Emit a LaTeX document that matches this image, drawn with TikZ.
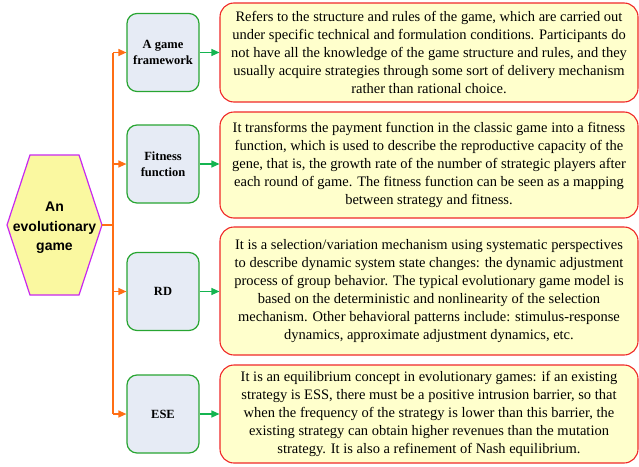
\documentclass[tikz,border=0pt]{standalone}
\usepackage{fontspec}
\setmainfont{Liberation Serif}
\newfontfamily\labelsans{Liberation Sans}
\usetikzlibrary{arrows.meta}

\definecolor{hexfill}{RGB}{250,248,160}
\definecolor{hexline}{RGB}{200,40,240}
\definecolor{termfill}{RGB}{230,235,245}
\definecolor{termline}{RGB}{40,165,50}
\definecolor{notefill}{RGB}{255,255,204}
\definecolor{noteline}{RGB}{240,40,40}
\definecolor{trunkline}{RGB}{255,110,20}
\definecolor{linkline}{RGB}{20,180,80}

\tikzset{
  termbox/.style={draw=termline, fill=termfill, line width=1.2pt, rounded corners=10pt,
    minimum width=72pt, minimum height=78pt, inner sep=1pt, align=center,
    font=\fontsize{12.5}{16}\selectfont\bfseries},
  notebox/.style={draw=noteline, fill=notefill, line width=1.1pt, rounded corners=14pt,
    minimum width=418pt, inner sep=2pt, align=center,
    font=\fontsize{14.5}{18}\selectfont},
  branch/.style={draw=trunkline, line width=1.3pt},
  brancharrow/.style={branch, -{Triangle[length=8pt,width=7pt]}},
  linkarrow/.style={draw=linkline, line width=1.2pt, -{Triangle[length=8pt,width=7pt]}}
}

\begin{document}
\begin{tikzpicture}[x=1pt, y=-1pt]
\useasboundingbox (0,0) rectangle (639,466);

% root hexagon
\draw[draw=hexline, fill=hexfill, line width=1.2pt]
  (7,225) -- (30,155) -- (79,155) -- (102,225) -- (79,295) -- (30,295) -- cycle;
\node[align=center, font=\labelsans\fontsize{14}{19.5}\selectfont\bfseries] (root) at (54.5,228)
  {An\\evolutionary\\game};
\coordinate (rootR) at (102,225);

% terms
\node[termbox] (t1) at (163,52.5) {A game\\framework};
\node[termbox] (t2) at (163,164) {Fitness\\function};
\node[termbox] (t3) at (163,291.5) {RD};
\node[termbox] (t4) at (163,414) {ESE};

% descriptions
\node[notebox, minimum height=99pt] (n1) at (429,52.5)
  {Refers to the structure and rules of the game, which are carried out\\
   under specific technical and formulation conditions. Participants do\\
   not have all the knowledge of the game structure and rules, and they\\
   usually acquire strategies through some sort of delivery mechanism\\
   rather than rational choice.};
\node[notebox, minimum height=106pt] (n2) at (429,165)
  {It transforms the payment function in the classic game into a fitness\\
   function, which is used to describe the reproductive capacity of the\\
   gene, that is, the growth rate of the number of strategic players after\\
   each round of game. The fitness function can be seen as a mapping\\
   between strategy and fitness.};
\node[notebox, minimum height=128pt] (n3) at (429,291)
  {It is a selection/variation mechanism using systematic perspectives\\
   to describe dynamic system state changes: the dynamic adjustment\\
   process of group behavior. The typical evolutionary game model is\\
   based on the deterministic and nonlinearity of the selection\\
   mechanism. Other behavioral patterns include: stimulus-response\\
   dynamics, approximate adjustment dynamics, etc.};
\node[notebox, minimum height=98pt] (n4) at (429,414)
  {It is an equilibrium concept in evolutionary games: if an existing\\
   strategy is ESS, there must be a positive intrusion barrier, so that\\
   when the frequency of the strategy is lower than this barrier, the\\
   existing strategy can obtain higher revenues than the mutation\\
   strategy. It is also a refinement of Nash equilibrium.};

% trunk
\coordinate (j0) at (113,225);
\coordinate (j1) at (113,52.5);
\coordinate (j2) at (113,164);
\coordinate (j3) at (113,291.5);
\coordinate (j4) at (113,414);
\draw[branch] (rootR) -- (j0);
\draw[branch] (j1) -- (j4);
\foreach \i in {1,2,3,4} {
  \draw[brancharrow] (j\i) -- (t\i.west);
  \draw[linkarrow] (t\i.east) -- (t\i.east -| n\i.west);
}
\end{tikzpicture}
\end{document}
